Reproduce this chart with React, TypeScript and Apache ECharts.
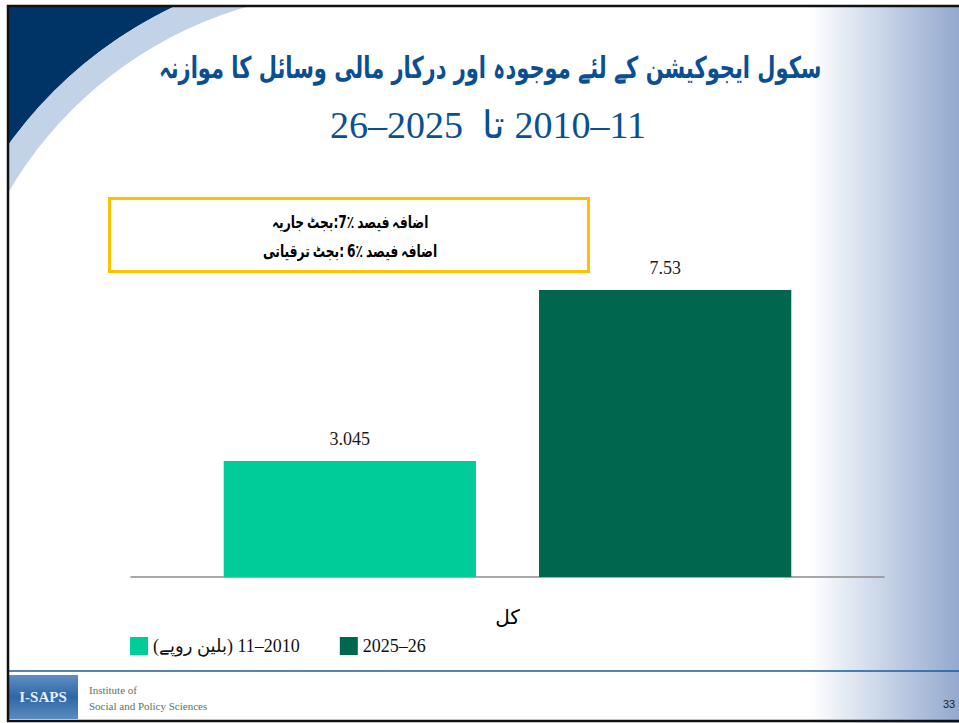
import React, { useEffect, useRef } from "react";
import * as echarts from "echarts";

const categories = ["کل"];
const seriesNames = ["(بلین روپے)\u200E 11–2010", "2025–26"];
const values2010 = [3.045];
const values2025 = [7.53];
const titleLine1 = "سکول ایجوکیشن کے لئے موجودہ اور درکار مالی وسائل کا موازنہ";
// laid out left to right, as seen on the slide (LRM marks keep the order)
const titleLine2 = "\u200E26–2025  تا\u200E 2010–11";
const noteLine1Tokens = ["جاریہ", "بجٹ:", "7٪", "فیصد", "اضافہ"];
const noteLine1Gaps = [" ", "", " ", " "];
const noteLine2Tokens = ["ترقیاتی", "بجٹ:", "6٪", "فیصد", "اضافہ"];
const noteLine2Gaps = [" ", " ", " ", " "];
const footerLines = ["Institute of", "Social and Policy Sciences"];
const logoText = "I-SAPS";
const pageNumber = "33";

const deg = (d: number) => (d * Math.PI) / 180;

function richLine(tokens: string[], gaps: string[], styleName: string, gapStyle: string) {
  let s = "";
  tokens.forEach((t, i) => {
    s += `{${styleName}|${t}}`;
    if (i < gaps.length && gaps[i]) s += `{${gapStyle}|${gaps[i]}}`;
  });
  return s;
}

export default function App() {
  const ref = useRef<HTMLDivElement>(null);
  useEffect(() => {
    if (!ref.current) return;
    const chart = echarts.init(ref.current, undefined, { renderer: "svg" });
    const noteRich = {
      u: {
        font: "bold 17px 'DejaVu Sans'",
        fontFamily: "'DejaVu Sans'",
        fontWeight: "bold",
        fontSize: 17,
        fill: "#000000",
      },
      g: {
        font: "bold 12px 'DejaVu Sans'",
        fontFamily: "'DejaVu Sans'",
        fontWeight: "bold",
        fontSize: 12,
        fill: "#000000",
      },
    };
    const option: any = {
      animation: false,
      backgroundColor: "#ffffff",
      graphic: {
        elements: [
          // right side gradient
          {
            type: "rect",
            z: -20,
            shape: { x: 810, y: 0, width: 149, height: 723 },
            style: {
              fill: new echarts.graphic.LinearGradient(0, 0, 1, 0, [
                { offset: 0, color: "#ffffff" },
                { offset: 0.45, color: "#cdd8e9" },
                { offset: 1, color: "#93a9ce" },
              ]),
            },
          },
          // top-left swoosh: dark region beyond the arc
          {
            type: "sector",
            z: -19,
            shape: {
              cx: 359,
              cy: 397,
              r0: 432,
              r: 1000,
              startAngle: deg(-180),
              endAngle: deg(-90),
              clockwise: true,
            },
            style: { fill: "#003467" },
          },
          // light band
          {
            type: "sector",
            z: -18,
            shape: {
              cx: 359,
              cy: 397,
              r0: 406,
              r: 432,
              startAngle: deg(-170),
              endAngle: deg(-90),
              clockwise: true,
            },
            style: { fill: "#c2d2e7" },
          },
          {
            type: "rect",
            z: -16,
            shape: { x: 0, y: 0, width: 8, height: 723 },
            style: { fill: "#ffffff" },
          },
          {
            type: "rect",
            z: -16,
            shape: { x: 0, y: 0, width: 959, height: 5 },
            style: { fill: "#ffffff" },
          },
          // footer line
          {
            type: "line",
            z: 5,
            shape: { x1: 8, y1: 671, x2: 959, y2: 671 },
            style: { stroke: "#1d5a96", lineWidth: 1.5 },
          },
          // slide border
          {
            type: "polyline",
            z: 10,
            shape: { points: [[959, 6], [8, 6], [8, 721], [959, 721]] },
            style: { stroke: "#111111", lineWidth: 2.5, fill: null },
          },
          // logo
          {
            type: "rect",
            z: 6,
            shape: { x: 9, y: 675, width: 69, height: 44 },
            style: {
              fill: new echarts.graphic.LinearGradient(0, 0, 0, 1, [
                { offset: 0, color: "#5f8fc3" },
                { offset: 0.5, color: "#2f67a6" },
                { offset: 1, color: "#5a8bc0" },
              ]),
            },
          },
          {
            type: "text",
            z: 7,
            x: 43,
            y: 697,
            style: {
              text: logoText,
              fill: "#e8eef7",
              font: "bold 15px 'Liberation Serif'",
              textAlign: "center",
              textVerticalAlign: "middle",
            },
          },
          {
            type: "text",
            z: 7,
            x: 89,
            y: 690,
            style: {
              text: footerLines[0],
              fill: "#5b735e",
              font: "11px 'Liberation Serif'",
              textVerticalAlign: "middle",
            },
          },
          {
            type: "text",
            z: 7,
            x: 89,
            y: 706,
            style: {
              text: footerLines[1],
              fill: "#5b735e",
              font: "11px 'Liberation Serif'",
              textVerticalAlign: "middle",
            },
          },
          {
            type: "text",
            z: 7,
            x: 949,
            y: 704,
            style: {
              text: pageNumber,
              fill: "#222222",
              font: "11px 'Liberation Sans'",
              textAlign: "center",
              textVerticalAlign: "middle",
            },
          },
          // titles
          {
            type: "text",
            z: 8,
            x: 490,
            y: 68,
            scaleX: 0.7,
            style: {
              text: titleLine1,
              fill: "#0b4f92",
              font: "bold 30px 'DejaVu Sans'",
              textAlign: "center",
              textVerticalAlign: "middle",
            },
          },
          {
            type: "text",
            z: 8,
            x: 488,
            y: 125,
            style: {
              text: titleLine2,
              fill: "#0b4f92",
              font: "38px 'Liberation Serif'",
              textAlign: "center",
              textVerticalAlign: "middle",
            },
          },
          // note box
          {
            type: "rect",
            z: 8,
            shape: { x: 109.5, y: 198.5, width: 479, height: 73 },
            style: { fill: "#ffffff", stroke: "#ffc000", lineWidth: 3 },
          },
          {
            type: "text",
            z: 9,
            x: 350,
            y: 222,
            scaleX: 0.72,
            style: {
              text: richLine(noteLine1Tokens, noteLine1Gaps, "u", "g"),
              fill: "#000000",
              font: "bold 17px 'DejaVu Sans'",
              textAlign: "center",
              textVerticalAlign: "middle",
              rich: noteRich,
            },
          },
          {
            type: "text",
            z: 9,
            x: 350,
            y: 251,
            scaleX: 0.72,
            style: {
              text: richLine(noteLine2Tokens, noteLine2Gaps, "u", "g"),
              fill: "#000000",
              font: "bold 17px 'DejaVu Sans'",
              textAlign: "center",
              textVerticalAlign: "middle",
              rich: noteRich,
            },
          },
        ],
      },
      legend: {
        left: 125,
        top: 632,
        icon: "rect",
        itemWidth: 18,
        itemHeight: 18,
        itemGap: 40,
        textStyle: {
          fontFamily: "'Liberation Serif', 'DejaVu Sans'",
          fontSize: 18,
          color: "#111111",
        },
        data: seriesNames,
      },
      grid: { left: 131, right: 75, top: 272, bottom: 146 },
      xAxis: {
        type: "category",
        data: categories,
        axisLine: { lineStyle: { color: "#8c8c8c", width: 1.5 } },
        axisTick: { show: false },
        axisLabel: {
          margin: 30,
          fontSize: 20,
          color: "#000000",
          fontFamily: "'DejaVu Sans'",
        },
      },
      yAxis: { type: "value", min: 0, max: 8, show: false },
      series: [
        {
          name: seriesNames[0],
          type: "bar",
          data: values2010,
          barWidth: "33.5%",
          barGap: "25%",
          itemStyle: { color: "#00cc9a" },
          label: {
            show: true,
            position: "top",
            distance: 13,
            fontFamily: "'Liberation Serif'",
            fontSize: 18,
            color: "#1a1a1a",
          },
        },
        {
          name: seriesNames[1],
          type: "bar",
          data: values2025,
          barWidth: "33.5%",
          barGap: "25%",
          itemStyle: { color: "#00674f" },
          label: {
            show: true,
            position: "top",
            distance: 13,
            fontFamily: "'Liberation Serif'",
            fontSize: 18,
            color: "#1a1a1a",
          },
        },
      ],
    };
    chart.setOption(option);
    return () => chart.dispose();
  }, []);
  return (
    <div
      ref={ref}
      style={{ position: "absolute", left: 0, top: 0, width: 959, height: 723 }}
    />
  );
}
